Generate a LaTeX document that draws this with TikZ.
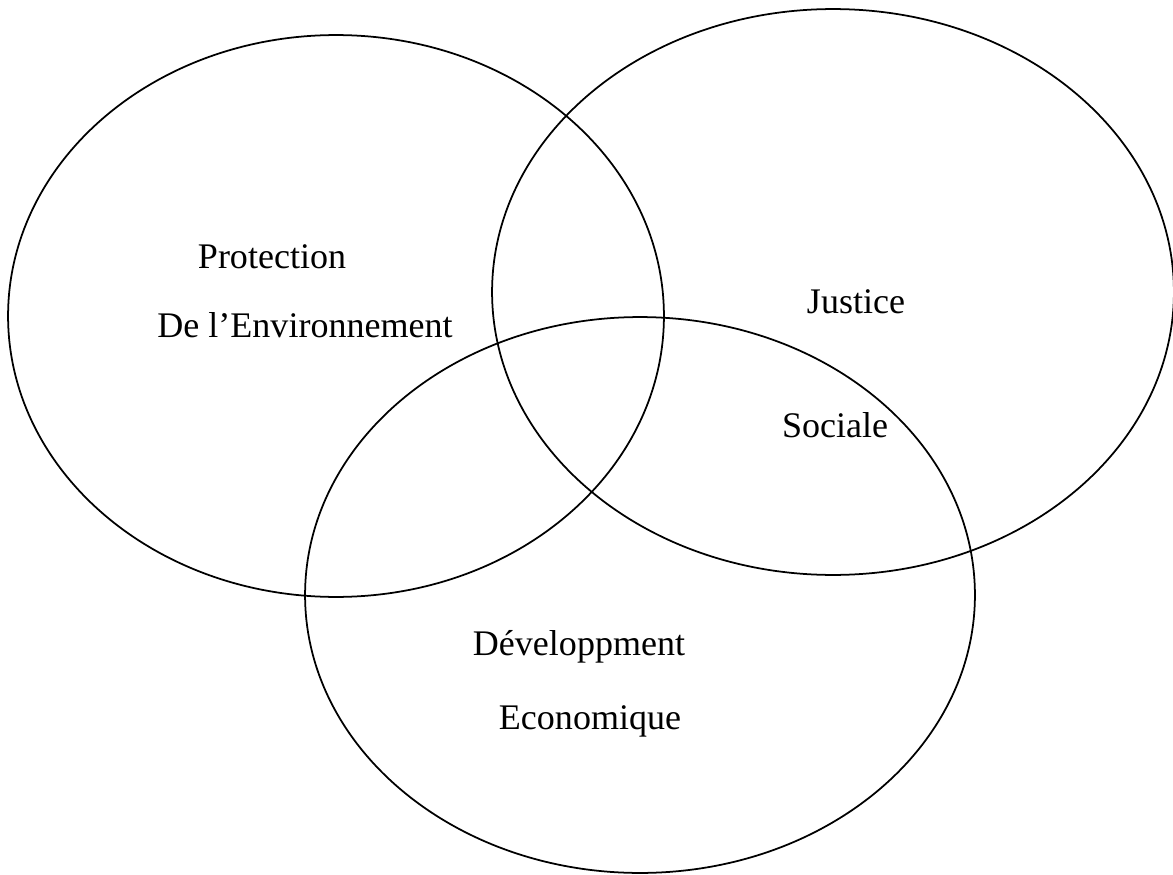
\documentclass[tikz,border=0pt]{standalone}
\usepackage{fontspec}
\setmainfont{Liberation Serif}
\usetikzlibrary{calc}

\begin{document}
\begin{tikzpicture}[x=0.02cm,                % 1 px
                    y=-0.02cm,               % y down
                    line width=1pt,
                    every node/.style={font=\fontsize{20.5}{24}\selectfont, anchor=base, inner sep=0pt}
                    ]

\useasboundingbox (0,0) rectangle (1173,875);

% Environnement
\draw (336,316) ellipse [x radius=6.56cm, y radius=5.62cm];
 \node (prot) at (272,268) {Protection};
 \node (env) at (305,337) {De l’Environnement};

% Social
\draw (833,292) ellipse [x radius=6.82cm, y radius=5.66cm];
 \node (just) at (856,313) {Justice};
 \node (soc) at (835,437) {Sociale};

% Economie
\draw (640,595) ellipse [x radius=6.7cm, y radius=5.56cm];
 \node (dev) at (579,655) {Développment};
 \node (eco) at (590,729) {Economique};

\end{tikzpicture}
\end{document}
